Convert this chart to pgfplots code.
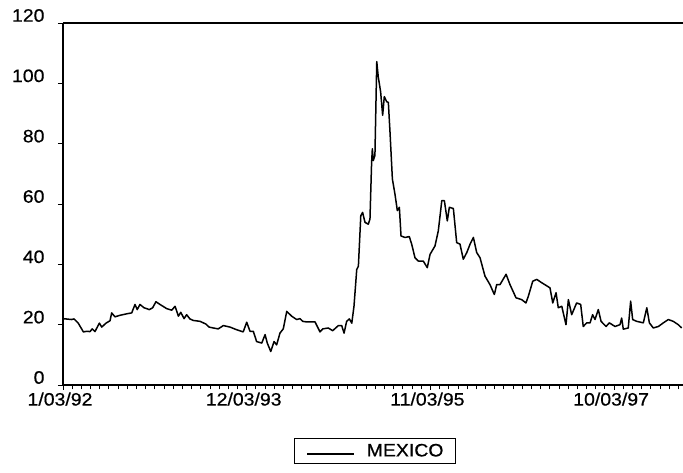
\documentclass[border=0pt]{standalone}
\usepackage{fontspec}
\setmainfont{Liberation Sans}[FakeStretch=1.08, FakeBold=0.6]
\usepackage{pgfplots}
\pgfplotsset{compat=1.18}

% Weekly series, x = observation number counted from 1/03/92
\pgfplotstableread{
w v
0 22.0
4.7 21.7
6.0 21.9
8.3 20.5
11.1 17.6
12.9 17.8
14.7 17.7
15.9 18.6
17.4 17.7
19.8 20.5
21.1 19.2
23.4 20.5
25.6 21.3
26.5 23.9
28.3 22.6
31.0 23.1
34.7 23.6
37.4 23.9
39.2 26.7
40.4 25.0
41.9 26.7
44.1 25.6
47.0 25.0
48.8 25.6
50.6 27.6
52.8 26.7
56.5 25.3
59.2 24.8
61.0 26.1
62.8 22.8
64.1 24.1
65.9 22.0
67.3 23.3
69.1 21.9
70.9 21.4
74.6 21.1
77.8 20.2
79.5 19.2
81.8 18.9
84.5 18.6
87.3 19.7
90.9 19.2
94.6 18.3
98.1 17.6
100.0 20.8
101.8 17.8
103.6 17.8
105.4 14.4
108.2 13.9
110.0 16.7
111.2 13.9
113.1 11.1
114.9 14.4
116.3 13.3
118.1 17.2
119.9 18.6
121.8 24.4
124.5 22.8
127.2 21.7
129.0 22.0
130.5 21.1
132.7 20.9
137.2 20.9
139.9 17.6
141.4 18.6
144.4 18.9
146.8 18.0
149.9 19.7
151.7 19.7
153.0 17.2
154.4 21.1
155.9 21.9
157.2 20.5
158.4 26.1
159.9 38.3
160.8 39.4
162.1 56.1
163.1 57.2
164.4 53.9
166.2 53.3
167.1 55.0
168.0 73.9
168.4 78.3
168.9 74.4
169.8 76.1
170.8 107.2
171.6 102.2
172.9 97.2
174.0 89.4
174.9 95.6
176.2 93.9
177.1 93.7
178.0 83.9
179.3 68.3
180.7 63.3
182.0 57.8
183.1 58.9
184.0 49.4
186.2 48.9
188.5 49.2
189.8 46.7
191.6 42.2
193.4 41.1
196.1 41.1
198.3 38.9
199.8 43.3
202.5 46.1
204.3 51.1
206.2 61.1
207.6 61.1
209.2 54.4
210.3 58.9
212.5 58.5
214.3 47.2
216.1 46.7
217.9 41.7
219.8 43.9
221.6 46.7
223.4 48.9
225.2 43.9
227.0 42.2
229.7 36.1
232.4 33.3
234.8 30.0
236.1 33.3
237.9 33.3
241.2 36.7
243.3 33.3
246.6 28.9
249.7 28.3
252.0 27.2
253.3 29.4
255.7 34.4
257.9 35.0
260.6 33.9
265.1 32.2
266.6 27.2
268.4 30.6
269.6 25.6
271.5 26.1
273.8 20.0
275.1 28.3
276.9 23.3
279.6 27.2
281.8 26.7
283.2 19.4
285.1 20.6
286.9 20.6
288.3 23.3
289.6 21.7
291.4 25.0
292.9 21.1
295.6 19.4
297.4 20.6
300.5 19.4
303.2 20.0
304.1 22.2
305.0 18.5
307.7 18.9
309.0 27.8
310.1 21.7
312.3 21.1
315.9 20.6
317.8 25.6
319.2 20.6
321.3 18.9
324.1 19.4
326.8 20.6
329.5 21.7
332.2 21.1
334.9 20.0
336.8 18.9
}\mexico

\begin{document}
\begin{tikzpicture}
\useasboundingbox (-63pt,-88pt) rectangle (620pt,385pt);
\begin{axis}[
  scale only axis,
  width=620pt, height=362pt,
  anchor=south west, at={(0pt,0pt)},
  xmin=0, xmax=337.5,
  ymin=0, ymax=120,
  axis x line*=bottom, axis y line*=left,
  axis line style={-, line width=1.1pt},
  tick align=outside,
  major tick length=5pt, minor tick length=4.5pt,
  tick style={black, line width=0.9pt},
  xtick={0,100,200,300},
  xticklabels={1/03/92,12/03/93,11/03/95,10/03/97},
  minor xtick={5,10,...,335},
  ytick={0,20,...,120},
  minor ytick={},
  /pgf/number format/assume math mode=true,
  tick label style={font=\fontsize{18}{21}\selectfont},
  yticklabel style={yshift=7.5pt, xshift=-10pt},
  xticklabel style={yshift=1pt, xshift=-3pt},
  legend style={
    at={(0.503,-0.182)}, anchor=center,
    draw=black, line width=0.7pt,
    font=\fontsize{18}{21}\selectfont,
    inner xsep=12pt, inner ysep=5.5pt,
    nodes={inner sep=0pt},
  },
  legend image code/.code={%
    \path[draw=none] (0pt,-3pt) rectangle (47pt,3pt);
    \draw[#1] (0pt,-3pt) -- (47pt,-3pt);},
  legend cell align=left,
]
\addplot[black, line width=1.5pt, line join=round] table[x=w, y=v] {\mexico};
\addlegendentry{\hspace{12pt}MEXICO\hspace{9pt}}
\draw[line width=1.1pt] (rel axis cs:0,1) -- (rel axis cs:1,1);
\end{axis}
\end{tikzpicture}
\end{document}
